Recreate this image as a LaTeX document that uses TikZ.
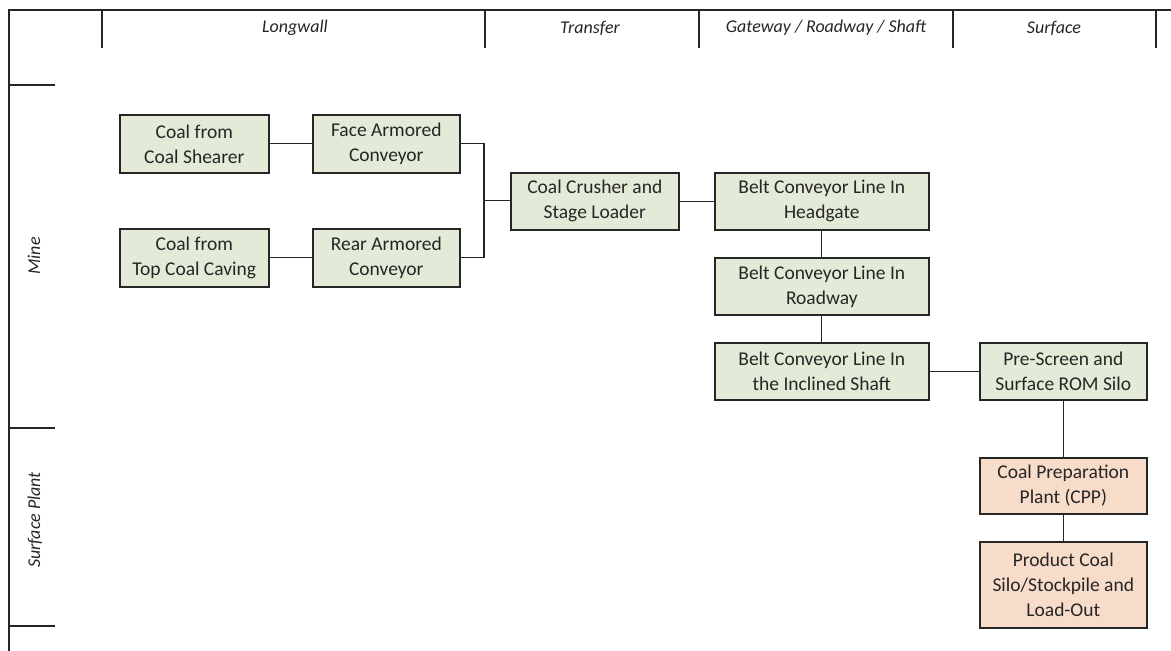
\documentclass[tikz,border=0pt]{standalone}
\usepackage{fontspec}
\setmainfont{Carlito}
\usetikzlibrary{positioning}
\definecolor{boxgreen}{HTML}{E3EAD7}
\definecolor{boxpink}{HTML}{F8DCCA}
\definecolor{ink}{HTML}{262626}
\tikzset{
  grid/.style={line width=1.4pt, draw=black!85},
  flow/.style={line width=1.3pt, draw=black!85},
  procbox/.style={draw=black!85, line width=1.6pt, fill=boxgreen, align=center, inner sep=0pt,
     font=\fontsize{19.5}{25}\selectfont, text=ink, anchor=north west},
  plantbox/.style={procbox, fill=boxpink},
  head/.style={font=\fontsize{18}{22}\selectfont\itshape, text=ink},
}
\begin{document}
\begin{tikzpicture}[x=1pt,y=-1pt]
\useasboundingbox[fill=white] (0,0) rectangle (1171,651);
% frame
\draw[grid] (9,651) -- (9,10) -- (1171,10);
\foreach \x in {102,485,699,953,1156} \draw[grid] (\x,10) -- (\x,48);
\foreach \y in {85,428,626} \draw[grid] (9,\y) -- (55,\y);
% headers
\node[head] (hlong) at (295,28) {Longwall};
\node[head] (htrans) at (590,28) {Transfer};
\node[head] (hgate) at (826,28) {Gateway / Roadway / Shaft};
\node[head] (hsurf) at (1054,28) {Surface};
\node[head, rotate=90] (hmine) at (34,256) {Mine};
\node[head, rotate=90] (hplant) at (35,520) {Surface Plant};
% boxes
\node[procbox, minimum width=149pt, minimum height=58pt] (shearer) at (119,114) {Coal from\\Coal Shearer};
\node[procbox, minimum width=147pt, minimum height=58pt] (face) at (312,114) {Face Armored\\Conveyor};
\node[procbox, minimum width=149pt, minimum height=58pt] (caving) at (119,228) {Coal from\\Top Coal Caving};
\node[procbox, minimum width=147pt, minimum height=58pt] (rear) at (312,228) {Rear Armored\\Conveyor};
\node[procbox, minimum width=168pt, minimum height=57pt] (crusher) at (510,172) {Coal Crusher and\\Stage Loader};
\node[procbox, minimum width=214pt, minimum height=57pt] (headgate) at (714,172) {Belt Conveyor Line In\\Headgate};
\node[procbox, minimum width=214pt, minimum height=57pt] (roadway) at (714,257) {Belt Conveyor Line In\\Roadway};
\node[procbox, minimum width=214pt, minimum height=57pt] (incl) at (714,342) {Belt Conveyor Line In\\the Inclined Shaft};
\node[procbox, minimum width=167pt, minimum height=57pt] (prescreen) at (979,342) {Pre-Screen and\\Surface ROM Silo};
\node[plantbox, minimum width=167pt, minimum height=56pt] (cpp) at (979,457) {Coal Preparation\\Plant (CPP)};
\node[plantbox, minimum width=167pt, minimum height=86pt] (product) at (979,541) {Product Coal\\Silo/Stockpile and\\Load-Out};
% connectors
\coordinate (join) at (484,200.5);
\draw[flow] (shearer.east) -- (shearer.east -| face.west);
\draw[flow] (caving.east) -- (caving.east -| rear.west);
\draw[flow] (face.east) -| (join);
\draw[flow] (rear.east) -| (join);
\draw[flow] (join) -- (join -| crusher.west);
\draw[flow] (crusher.east) -- (crusher.east -| headgate.west);
\draw[flow] (headgate.south) -- (roadway.north);
\draw[flow] (roadway.south) -- (incl.north);
\draw[flow] (incl.east) -- (incl.east -| prescreen.west);
\draw[flow] (prescreen.south) -- (cpp.north);
\draw[flow] (cpp.south) -- (product.north);
\end{tikzpicture}
\end{document}
